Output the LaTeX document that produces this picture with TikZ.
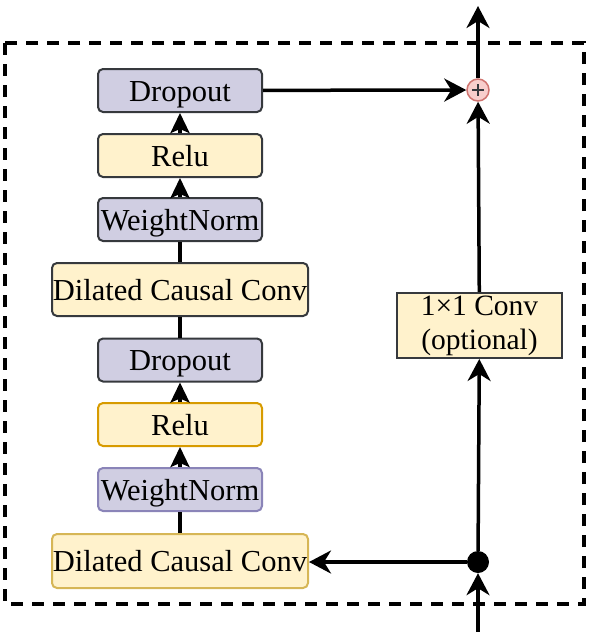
\documentclass[tikz,border=0pt]{standalone}
\usepackage{fontspec}
\setmainfont{Liberation Serif}
\usetikzlibrary{arrows.meta,calc}
\definecolor{purpfill}{HTML}{D0CEE2}
\definecolor{purpline}{HTML}{8A84B8}
\definecolor{yelfill}{HTML}{FFF2CC}
\definecolor{yelline}{HTML}{D6B656}
\definecolor{orgline}{HTML}{D79B00}
\definecolor{darkline}{HTML}{36393D}
\definecolor{redfill}{HTML}{F8CECC}
\definecolor{redline}{HTML}{D07470}
\tikzset{
  blk/.style={rounded corners=5pt, line width=2pt, inner sep=0pt,
    minimum width=164pt, minimum height=43pt, text height=21pt, text depth=0pt,
    font=\fontsize{30.5}{35}\selectfont},
  purp/.style={blk, fill=purpfill, draw=darkline},
  yel/.style={blk, fill=yelfill, draw=darkline},
  wide/.style={minimum width=256pt, minimum height=53pt},
  conn/.style={line width=3.5pt},
  bigarrow/.style={conn, -{Stealth[length=22pt,width=23pt,inset=7pt]}},
  smallarrow/.style={conn, -{Stealth[length=20pt,width=19pt,inset=4pt]}},
}
\begin{document}
\begin{tikzpicture}[x=1pt,y=-1pt]
\useasboundingbox (0,0) rectangle (591,632);
\draw[line width=3.5pt, dash pattern=on 12pt off 9pt] (5,43) rectangle (584,604);

\node[purp] (do1) at (180,90.5) {Dropout};
\node[yel] (re1) at (180,155.5) {Relu};
\node[purp] (wn1) at (180,219.5) {WeightNorm};
\node[yel, wide] (dc1) at (180,289.5) {Dilated Causal Conv};
\node[purp] (do2) at (180,360) {Dropout};
\node[yel, draw=orgline] (re2) at (180,424.5) {Relu};
\node[purp, draw=purpline] (wn2) at (180,489.5) {WeightNorm};
\node[yel, wide, draw=yelline, minimum height=54pt] (dc2) at (180,561) {Dilated Causal Conv};

\node[draw=darkline, line width=2pt, fill=yelfill, inner sep=0pt,
  minimum width=165pt, minimum height=65pt, align=center,
  font=\fontsize{29.5}{34}\selectfont] (c11) at (479.5,325.5) {1×1 Conv\\(optional)};

\node[circle, draw=redline, fill=redfill, line width=1.5pt, minimum size=22pt, inner sep=0pt] (plus) at (478,90) {};
\draw[line width=1.5pt, darkline] ($(plus.center)+(-6,0)$) -- ($(plus.center)+(6,0)$);
\draw[line width=1.5pt, darkline] ($(plus.center)+(0,-6)$) -- ($(plus.center)+(0,6)$);
\node[circle, fill=black, minimum size=22pt, inner sep=0pt] (dot) at (478,562) {};
\coordinate (top) at (478,6);
\coordinate (bot) at (478,632);

\draw[smallarrow] (re1) -- (do1);
\draw[smallarrow] (wn1) -- (re1);
\draw[conn] (dc1) -- (wn1);
\draw[conn] (do2) -- (dc1);
\draw[smallarrow] (re2) -- (do2);
\draw[smallarrow] (wn2) -- (re2);
\draw[conn] (dc2) -- (wn2);

\draw[bigarrow] (plus) -- (top);
\draw[bigarrow] (do1) -- (plus);
\draw[bigarrow] (c11) -- (plus);
\draw[bigarrow] (dot) -- (c11);
\draw[bigarrow] (bot) -- (dot);
\draw[bigarrow] (dot) -- (dot -| dc2.east);
\end{tikzpicture}
\end{document}
